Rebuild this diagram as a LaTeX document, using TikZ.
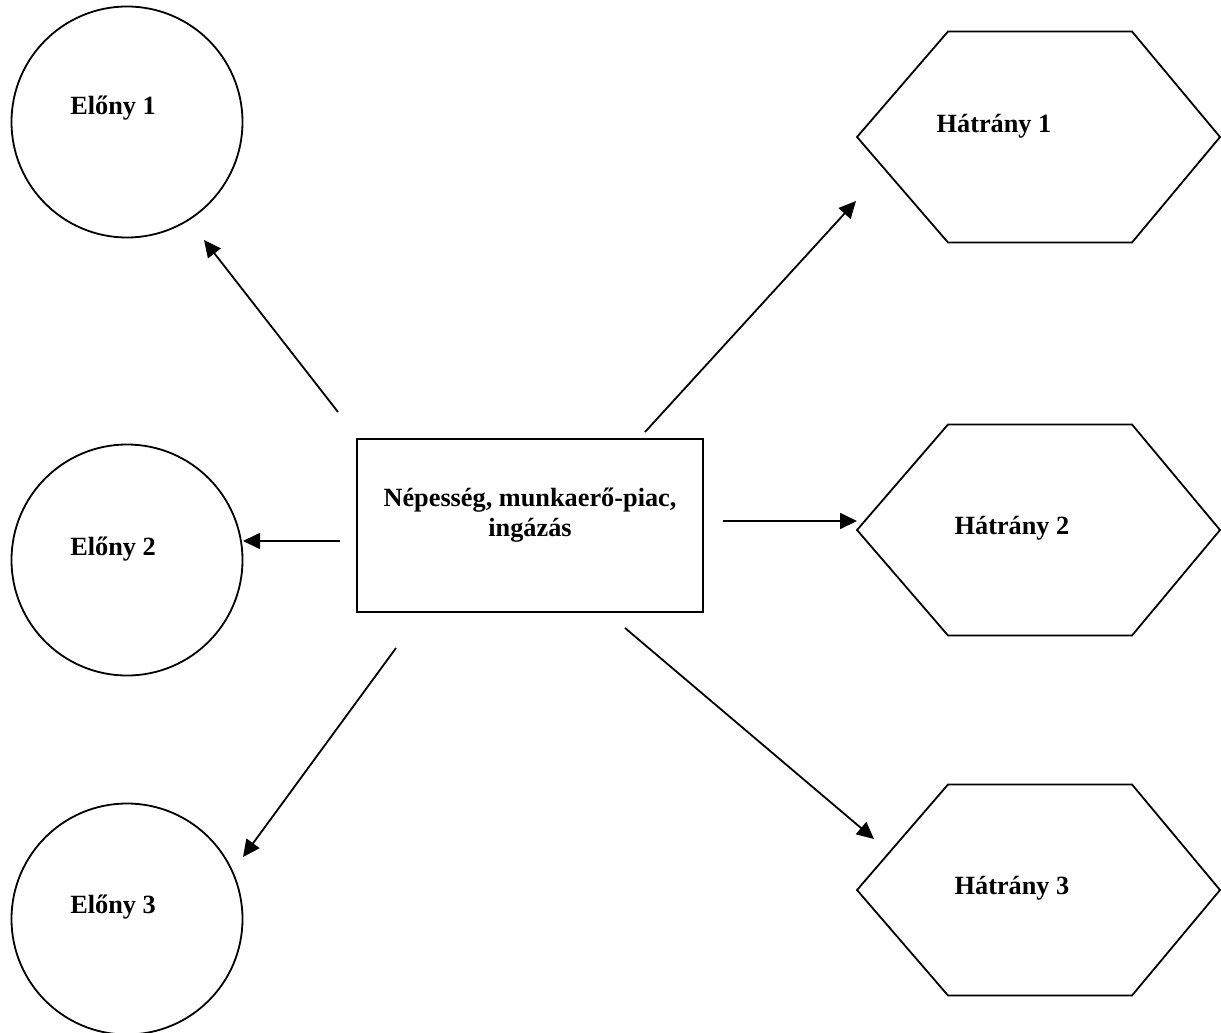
\documentclass[tikz,border=0pt]{standalone}
\usepackage{fontspec}
\setmainfont{Liberation Serif}
\usetikzlibrary{arrows.meta}
\begin{document}
\begin{tikzpicture}[x=1pt,y=-1pt,
  shapeline/.style={draw=black,line width=1.8pt},
  circ/.style={shapeline,circle,minimum size=231pt,inner sep=0pt},
  lbl/.style={font=\fontsize{26.3}{30}\selectfont\bfseries,align=center,inner sep=0pt},
  conn/.style={line width=1.8pt,-{Triangle[length=17pt,width=16pt]}}]
\useasboundingbox (0,0) rectangle (1221,1033);
% circles
\node[circ] (c1) at (127,122) {};
\node[circ] (c2) at (127,560) {};
\node[circ] (c3) at (127,919) {};
\node[lbl] (t1) at (113,108) {Előny 1};
\node[lbl] (t2) at (113,549) {Előny 2};
\node[lbl] (t3) at (113,907) {Előny 3};
% centre box
\node[shapeline,rectangle,minimum width=346pt,minimum height=173pt,inner sep=0pt] (box) at (530,525.5) {};
\node[lbl] (bt) at (530,515) {Népesség, munkaerő-piac,\\ingázás};
% hexagons
\foreach \n/\y in {1/137,2/530,3/890}{
  \draw[shapeline,line join=miter] (857,\y) -- (948,\y-105.5) -- (1132,\y-105.5) -- (1220,\y) -- (1132,\y+105.5) -- (948,\y+105.5) -- cycle;
}
\node[lbl] (h1) at (994,126) {Hátrány 1};
\node[lbl] (h2) at (1012,528) {Hátrány 2};
\node[lbl] (h3) at (1012,888) {Hátrány 3};
% connector ends
\coordinate (a1s) at (338,412); \coordinate (a1e) at (204,240);
\coordinate (a2s) at (340,541); \coordinate (a2e) at (243,541);
\coordinate (a3s) at (396,648); \coordinate (a3e) at (243,857);
\coordinate (a4s) at (645,432); \coordinate (a4e) at (856,201);
\coordinate (a5s) at (723,521); \coordinate (a5e) at (857,521);
\coordinate (a6s) at (625,628); \coordinate (a6e) at (874,839);
\draw[conn] (a1s) -- (a1e);
\draw[conn] (a2s) -- (a2e);
\draw[conn] (a3s) -- (a3e);
\draw[conn] (a4s) -- (a4e);
\draw[conn] (a5s) -- (a5e);
\draw[conn] (a6s) -- (a6e);
\end{tikzpicture}
\end{document}
